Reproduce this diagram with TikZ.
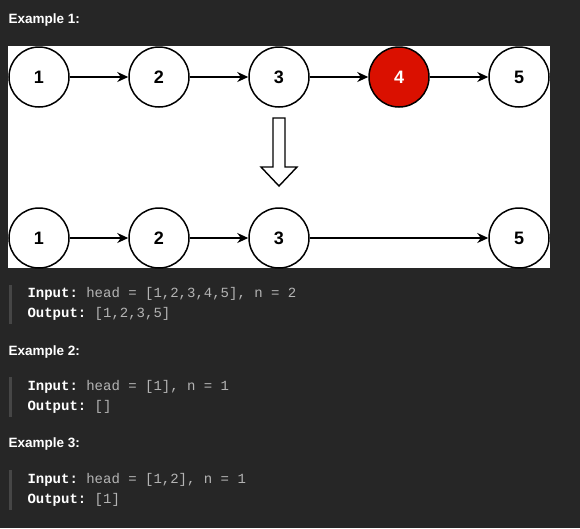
\documentclass[tikz,border=0pt]{standalone}
\usepackage{fontspec}
\setmainfont{Liberation Sans}
\setmonofont{Liberation Mono}
\usetikzlibrary{arrows.meta,positioning}
\definecolor{pagebg}{RGB}{38,38,38}
\definecolor{nodered}{RGB}{218,16,0}
\definecolor{codegray}{RGB}{180,180,180}
\definecolor{bargray}{RGB}{70,70,70}

\begin{document}
\begin{tikzpicture}[x=1pt,y=-1pt,
item/.style={circle,draw=black,line width=1.5pt,fill=white,minimum size=60pt,inner sep=0pt,font=\fontsize{18}{18}\selectfont\bfseries},
arr/.style={-{Stealth[length=11pt,width=10pt]},line width=1.4pt,draw=black},
head/.style={anchor=west,text=white,font=\fontsize{13.5}{14}\selectfont\bfseries},
code/.style={anchor=west,text=codegray,font=\fontsize{14}{14}\ttfamily},
bar/.style={line width=3pt,draw=bargray}]

\fill[pagebg](0,0)rectangle(580,528);
\fill[white](8,46)rectangle(550,268);
\node[head](ex1)at(5,20){Example 1:};

% list before removal
\node[item](a1)at(39,77){1};
\node[item](a2)at(159,77){2};
\node[item](a3)at(279,77){3};
\node[item,fill=nodered,text=white](a4)at(399,77){4};
\node[item](a5)at(519,77){5};
\draw[arr](a1)--(a2);
\draw[arr](a2)--(a3);
\draw[arr](a3)--(a4);
\draw[arr](a4)--(a5);

\draw[line width=1.4pt,fill=white,line join=miter](273,118)--(285,118)--(285,167)--(297,167)--(279,186)--(261,167)--(273,167)--cycle;

% list after removal
\node[item](b1)at(39,238){1};
\node[item](b2)at(159,238){2};
\node[item](b3)at(279,238){3};
\node[item](b5)at(519,238){5};
\draw[arr](b1)--(b2);
\draw[arr](b2)--(b3);
\draw[arr](b3)--(b5);

\draw[bar](10,285)--(10,324);
\node[code](in1)at(24,294){\textcolor{white}{\bfseries Input:} head = [1,2,3,4,5], n = 2};
\node[code](out1)at(24,314){\textcolor{white}{\bfseries Output:} [1,2,3,5]};

\node[head](ex2)at(5,352){Example 2:};
\draw[bar](10,377)--(10,417);
\node[code](in2)at(24,387){\textcolor{white}{\bfseries Input:} head = [1], n = 1};
\node[code](out2)at(24,407){\textcolor{white}{\bfseries Output:} []};

\node[head](ex3)at(5,444){Example 3:};
\draw[bar](10,470)--(10,510);
\node[code](in3)at(24,480){\textcolor{white}{\bfseries Input:} head = [1,2], n = 1};
\node[code](out3)at(24,500){\textcolor{white}{\bfseries Output:} [1]};
\end{tikzpicture}
\end{document}
